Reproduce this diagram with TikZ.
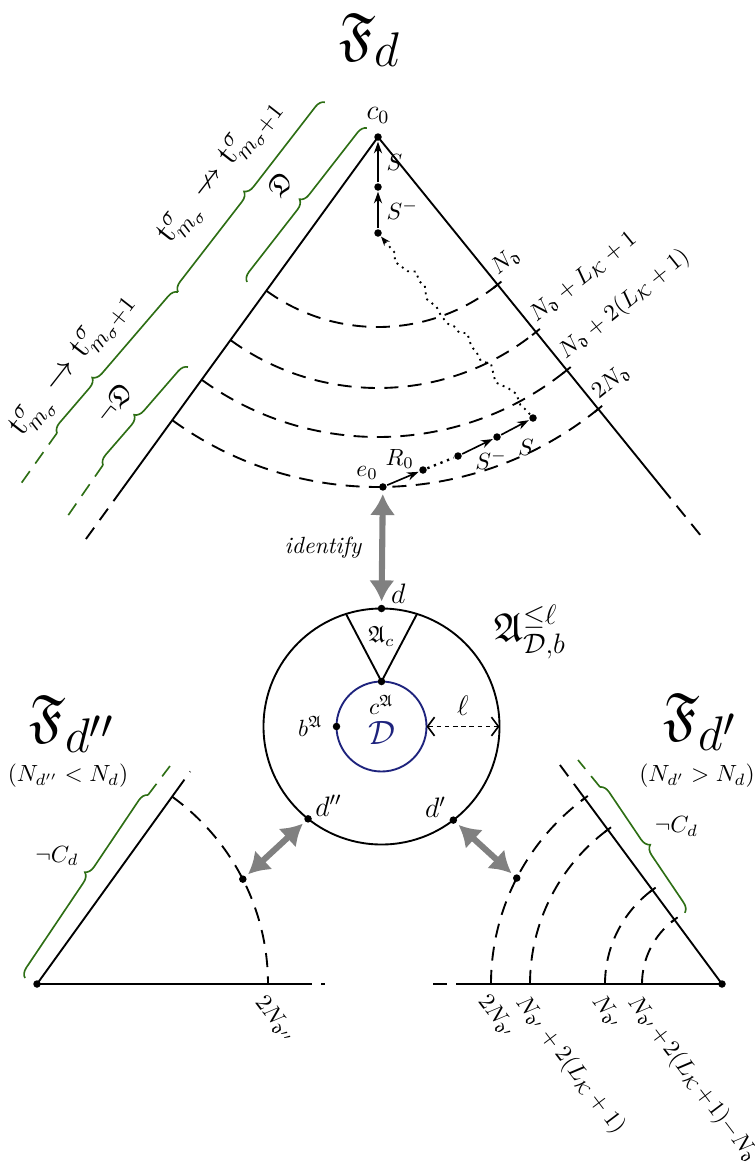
\documentclass[tikz,border=0pt]{standalone}
\usepackage{amsmath,amssymb}
\usepackage{tikz}
\usetikzlibrary{arrows.meta,positioning,calc,decorations.pathreplacing,decorations.pathmorphing}
\definecolor{bracegreen}{RGB}{45,110,20}
\definecolor{innerblue}{RGB}{30,35,125}

\begin{document}
\begin{tikzpicture}[
    x=0.015cm, y=-0.015cm,
    line width=0.8pt,
    dot/.style={circle, fill, inner sep=0pt, minimum size=3.2pt},
    arrow/.style={-{Stealth[length=5pt,width=3.5pt]}, line width=0.7pt},
    arcdash/.style={dash pattern=on 6pt off 4pt},
    link/.style={{Latex[length=9pt,width=11pt]}-{Latex[length=9pt,width=11pt]}, line width=2.6pt, gray, shorten <=1pt, shorten >=1pt},
    gbrace/.style={decorate, decoration={brace, amplitude=4pt, aspect=#1}, draw=bracegreen, line width=0.7pt},
    gbrace/.default=0.5,
    gdash/.style={draw=bracegreen, arcdash, line width=0.7pt},
    lbl/.style={inner sep=1pt},
    font=\normalsize
]
\useasboundingbox (0,0) rectangle (755,1172);

% titles
\node[font=\Huge] (ftop) at (370,40) {$\mathfrak F_d$};
\node[font=\Huge] (fleft) at (72,724) {$\mathfrak F_{d''}$};
\node (cleft) at (68,776) {$(N_{d''} < N_d)$};
\node[font=\Huge] (fright) at (700,722) {$\mathfrak F_{d'}$};
\node (cright) at (697,776) {$(N_{d'} > N_d)$};

% top cone
\node[dot] (c0) at (378,137) {};
\node[above=0pt of c0, font=\large] {$c_0$};
\draw (c0.center) -- ($(c0)+(126:436)$) coordinate (tl);
\draw[arcdash] (tl) -- ($(c0)+(126:502)$);
\draw (c0.center) -- ($(c0)+(51:451)$) coordinate (tr);
\draw[arcdash] (tr) -- ($(c0)+(51:516)$);
\foreach \r/\txt in {190/{$N_{\mathfrak d}$}, 251/{$N_{\mathfrak d}+L_{\mathcal K}+1$}, 300/{$N_{\mathfrak d}+2(L_{\mathcal K}+1)$}, 350/{$2N_{\mathfrak d}$}} {
  \draw[arcdash] ($(c0)+(126:\r)$) arc[start angle=126, end angle=51, radius=\r];
  \draw ($(c0)+(51:\r)+(141:5)$) -- ($(c0)+(51:\r)+(-39:5)$);
  \node[lbl, rotate=39, anchor=south west] at ($(c0)+(51:\r)+(-39:3)$) {\txt};
}

% steps near the apex
\node[dot] (s1) at (378,187) {};
\node[dot] (s2) at (378,233) {};
\draw[arrow] (s1) -- node[right]{$S$} (c0);
\draw[arrow] (s2) -- node[right]{$S^-$} (s1);

% steps along the bottom arc
\node[dot] (e0) at ($(c0)+(89.2:350)$) {};
\node[above left=-2pt and -3pt of e0] {$e_0$};
\node[dot] (r1) at (423,470) {};
\node[dot] (r2) at (458,456) {};
\node[dot] (r3) at (497,437) {};
\node[dot] (r4) at (533,418) {};
\draw[arrow] (e0) -- node[pos=0.4, above=1pt]{$R_0$} (r1);
\draw[dotted, line width=1pt] (r1) -- (r2);
\draw[arrow] (r2) -- node[pos=0.95, below=1pt]{$S^-$} (r3);
\draw[arrow] (r3) -- node[pos=0.3, below right=0pt and 0pt]{$S$} (r4);
\pgfmathsetseed{7}
\draw[dotted, line width=0.8pt, -{Stealth[length=4pt,width=3pt]},
  decorate, decoration={random steps, segment length=4pt, amplitude=2.5pt, pre length=2pt, post length=4pt}]
  (r4) -- (s2);

% braces along the left side
\coordinate (b1s) at (247,282); \coordinate (b1e) at (367,128);
\coordinate (b2s) at (103,465); \coordinate (b2e) at (188,367);
\coordinate (b3s) at (178,292); \coordinate (b3e) at (325,102);
\coordinate (b4s) at (57,433);
\draw[gbrace] (b1s) -- (b1e);
\node[rotate=52, font=\large] at (280,184) {$\mathfrak D$};
\draw[gbrace=0.45] (b2s) -- (b2e);
\node[rotate=52, font=\large] at (114,403) {$\neg\mathfrak D$};
\draw[gdash] (b2s) -- ($(b2s)+(67,517)-(103,465)$);
\draw[gbrace] (b3s) -- (b3e);
\node[rotate=52, font=\Large] at (220,172) {$\mathrm{t}^\sigma_{m_\sigma} \nrightarrow \mathrm{t}^\sigma_{m_\sigma+1}$};
\draw[gbrace=0.35] (b4s) -- (b3s);
\node[rotate=52, font=\Large] at (72,365) {$\mathrm{t}^\sigma_{m_\sigma} \rightarrow \mathrm{t}^\sigma_{m_\sigma+1}$};
\draw[gdash] (b4s) -- ($(b4s)+(20,485)-(57,433)$);

% ball
\coordinate (ac) at (381.5,726.5);
\draw (ac) circle[radius=118];
\draw[innerblue] (ac) circle[radius=45];
\node[dot] (d) at ($(ac)+(-90:118)$) {};
\node[dot] (cA) at ($(ac)+(-90:45)$) {};
\coordinate (w1) at ($(ac)+(-107.5:118)$);
\coordinate (w2) at ($(ac)+(-72.5:118)$);
\draw (w1) -- (cA.center) -- (w2);
\node[dot] (bA) at ($(ac)+(180:45)$) {};
\node[dot] (d2) at ($(ac)+(128.5:118)$) {};
\node[dot] (d1) at ($(ac)+(52.5:118)$) {};
\node[above right=-3pt and -1pt of d, font=\large] {$d$};
\node[below=2pt of d] {$\mathfrak A_c$};
\node[below=0pt of cA] {$c^{\mathfrak A}$};
\node[left=0pt of bA] {$b^{\mathfrak A}$};
\node[innerblue, font=\Large] at ($(ac)+(0,6)$) {$\mathcal D$};
\coordinate (lin) at ($(ac)+(0:45)$);
\coordinate (lout) at ($(ac)+(0:118)$);
\draw[dash pattern=on 2pt off 1.5pt, line width=0.7pt, {Straight Barb[length=3pt,width=8pt]}-{Straight Barb[length=3pt,width=8pt]}] (lin) -- node[above=1pt, font=\large]{$\ell$} (lout);
\node[above right=-4pt and -2pt of d2, font=\large] {$d''$};
\node[above left=-4pt and -2pt of d1, font=\large] {$d'$};
\node[font=\LARGE] (ball) at (530,632) {$\mathfrak A^{\le\ell}_{\mathcal D,b}$};

\draw[link] (e0) -- node[left=4pt, text=black]{\textit{identify}} (d);

% left cone
\node[dot] (a2) at (37,984) {};
\draw (a2.center) -- ($(a2)+(-54.2:238)$) coordinate (a2s);
\draw[arcdash] (a2s) -- ($(a2)+(-54.2:262)$);
\draw (a2.center) -- (298,984) coordinate (a2b);
\draw[arcdash] (a2b) -- (325,984);
\draw[arcdash] ($(a2)+(-54.2:231)$) arc[start angle=-54.2, end angle=0, radius=231];
\node[lbl, rotate=-53, anchor=north west] at ($(a2)+(231,4)$) {$2N_{\mathfrak d''}$};
\node[dot] (q2) at ($(a2)+(-27:231)$) {};
\draw[link] (d2) -- (q2);
\coordinate (b5s) at (25,978); \coordinate (b5e) at (148,795);
\draw[gbrace=0.55] (b5s) -- (b5e);
\draw[gdash] (b5e) -- (170,766);
\node at (57,856) {$\neg C_d$};

% right cone
\node[dot] (a3) at (722,984) {};
\draw (a3.center) -- ($(a3)+(233.5:235)$) coordinate (a3s);
\draw[arcdash] (a3s) -- ($(a3)+(233.5:275)$);
\draw (a3.center) -- (470,984) coordinate (a3b);
\draw[arcdash] (a3b) -- (427,984);
\foreach \r/\txt in {231/{$2N_{\mathfrak d'}$}, 192/{$N_{\mathfrak d'}+2(L_{\mathcal K}+1)$}, 117/{$N_{\mathfrak d'}$}, 80/{$\medmuskip=1.5mu N_{\mathfrak d'}+2(L_{\mathcal K}+1){-}N_{\mathfrak d}$}} {
  \draw[arcdash] ($(a3)+(180:\r)$) arc[start angle=180, end angle=233.5, radius=\r];
  \draw ($(a3)+(233.5:\r)+(143.5:4)$) -- ($(a3)+(233.5:\r)+(-36.5:4)$);
  \node[lbl, rotate=-53, anchor=north west] at ($(a3)+(-\r,3)$) {\txt};
}
\node[dot] (q1) at ($(a3)+(207.3:231)$) {};
\draw[link] (d1) -- (q1);
\coordinate (b6s) at (600,787); \coordinate (b6e) at (685,913);
\draw[gbrace] (b6s) -- (b6e);
\draw[gdash] (b6s) -- (578,760);
\node[anchor=south west] at (646,845) {$\neg C_d$};

\end{tikzpicture}
\end{document}
